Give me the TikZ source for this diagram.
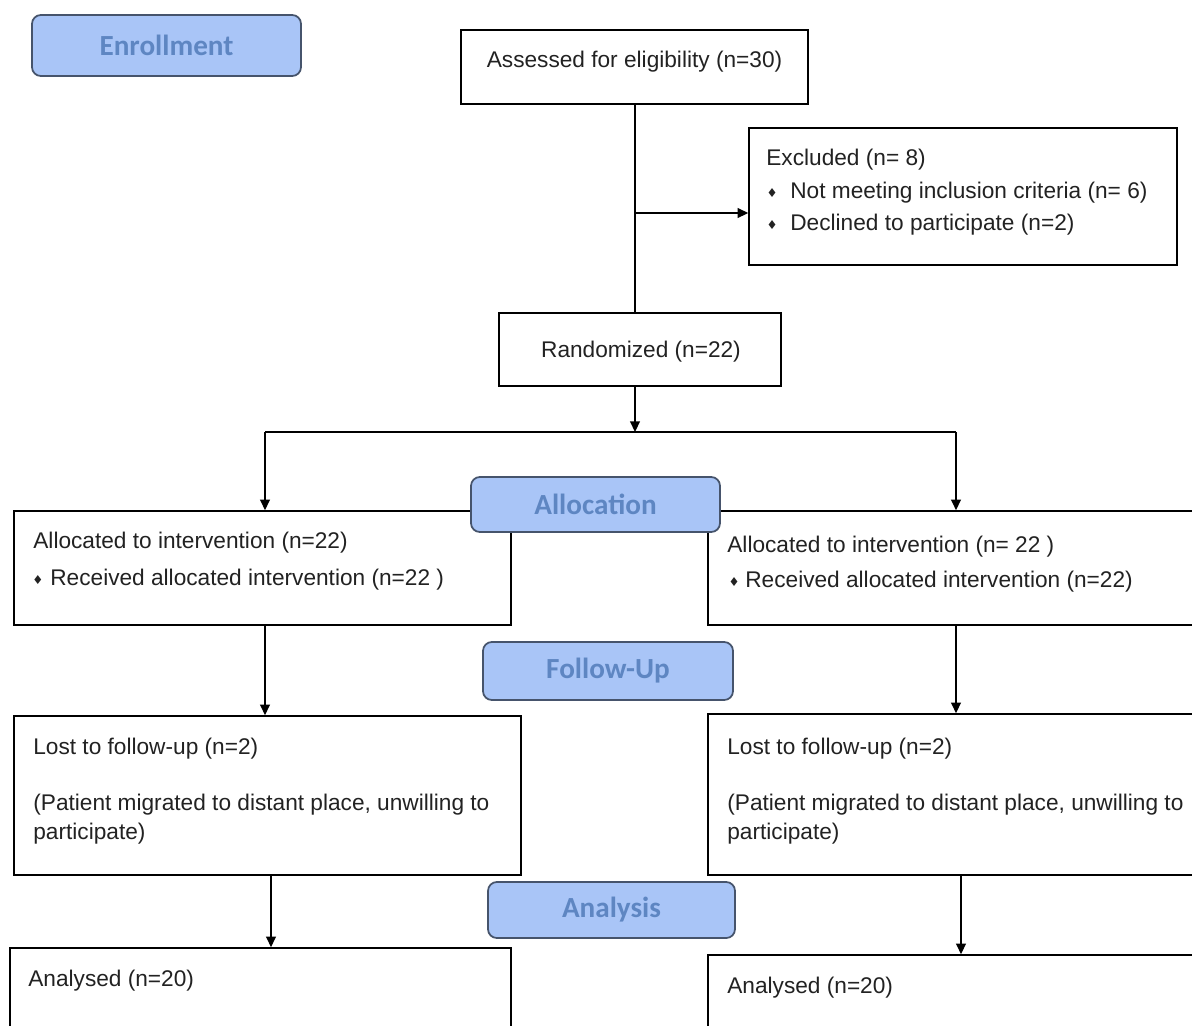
\documentclass[tikz,border=0pt]{standalone}
\usepackage{fontspec}
\setmainfont{Liberation Sans}
\newfontfamily\hdrfont{Carlito}
\newfontfamily\symfont{DejaVu Sans}
\usetikzlibrary{arrows.meta}
\definecolor{hdrfill}{HTML}{A9C5F7}
\definecolor{hdrtext}{HTML}{5E86C2}
\definecolor{hdrdraw}{HTML}{46546C}
\definecolor{txt}{HTML}{222222}
\newcommand{\bul}{{\symfont\fontsize{7}{7}\selectfont ♦}}
\begin{document}
\begin{tikzpicture}[x=0.02cm,y=-0.02cm,
  box/.style={draw=black, line width=0.9pt, rectangle, inner sep=0pt},
  hdr/.style={draw=hdrdraw, fill=hdrfill, line width=1pt, rounded corners=5pt, inner sep=0pt,
    text=hdrtext, font=\hdrfont\fontsize{16.6}{19}\selectfont\bfseries},
  lbl/.style={anchor=base west, inner sep=0pt, text=txt, font=\fontsize{12.9}{15}\selectfont},
  clbl/.style={anchor=base, inner sep=0pt, text=txt, font=\fontsize{12.9}{15}\selectfont},
  bl/.style={anchor=base, inner sep=0pt, text=txt},
  line/.style={draw=black, line width=0.9pt},
  arr/.style={line, -{Triangle[length=6pt,width=5.5pt]}}]
\useasboundingbox (0,0) rectangle (1192,1025);
\clip (0,0) rectangle (1192,1025);
\fill[white] (0,0) rectangle (1192,1025);

% boxes
\node[box, minimum width=6.94cm, minimum height=1.48cm] (assess) at (634.5,67) {};
\node[box, minimum width=8.56cm, minimum height=2.74cm] (excl) at (963,196.5) {};
\node[box, minimum width=5.64cm, minimum height=1.46cm] (rand) at (640,349.5) {};
\node[box, minimum width=9.94cm, minimum height=2.28cm] (allocL) at (262.5,568) {};
\node[box, minimum width=9.84cm, minimum height=2.28cm] (allocR) at (954,568) {};
\node[box, minimum width=10.14cm, minimum height=3.18cm] (lostL) at (267.5,795.5) {};
\node[box, minimum width=9.84cm, minimum height=3.22cm] (lostR) at (954,794.5) {};
\node[box, minimum width=10.02cm, minimum height=1.84cm] (anaL) at (260.5,994) {};
\node[box, minimum width=9.84cm, minimum height=1.70cm] (anaR) at (954,997.5) {};

% texts
\node[clbl] (tAssess) at (634.5,67) {Assessed for eligibility (n=30)};
\node[lbl] (tExcl) at (766,165) {Excluded (n= 8)};
\node[bl] (bE1) at (772,197) {\bul};
\node[lbl] (tE1) at (790,198) {Not meeting inclusion criteria (n= 6)};
\node[bl] (bE2) at (772,229) {\bul};
\node[lbl] (tE2) at (790,230) {Declined to participate (n=2)};
\node[clbl] (tRand) at (641,357) {Randomized (n=22)};

\node[lbl] (tAL1) at (33,548) {Allocated to intervention (n=22)};
\node[bl] (bAL) at (38,584) {\bul};
\node[lbl] (tAL2) at (50,585) {Received allocated intervention (n=22 )};
\node[lbl] (tAR1) at (727,552) {Allocated to intervention (n= 22 )};
\node[bl] (bAR) at (734,586) {\bul};
\node[lbl] (tAR2) at (745,587) {Received allocated intervention (n=22)};

\node[lbl] (tLL1) at (33,754) {Lost to follow-up (n=2)};
\node[lbl] (tLL2) at (33,810) {(Patient migrated to distant place, unwilling to};
\node[lbl] (tLL3) at (33,839) {participate)};
\node[lbl] (tLR1) at (727,754) {Lost to follow-up (n=2)};
\node[lbl] (tLR2) at (727,810) {(Patient migrated to distant place, unwilling to};
\node[lbl] (tLR3) at (727,839) {participate)};

\node[lbl] (tAnL) at (28,986) {Analysed (n=20)};
\node[lbl] (tAnR) at (727,993) {Analysed (n=20)};

% connectors
\coordinate (b1) at (635,213);
\coordinate (split) at (635,432);
\coordinate (sl) at (265,432);
\coordinate (sr) at (956,432);
\draw[line] (assess.south -| b1) -- (rand.north -| b1);
\draw[arr] (b1) -- (b1 -| excl.west);
\draw[arr] (rand.south -| split) -- (split);
\draw[line] (sl) -- (sr);
\draw[arr] (sl) -- (sl |- allocL.north);
\draw[arr] (sr) -- (sr |- allocR.north);
\coordinate (fl) at (265,625);
\coordinate (fr) at (956,625);
\draw[arr] (allocL.south -| fl) -- (lostL.north -| fl);
\draw[arr] (allocR.south -| fr) -- (lostR.north -| fr);
\coordinate (al) at (271,875);
\coordinate (ar) at (961,875);
\draw[arr] (lostL.south -| al) -- (anaL.north -| al);
\draw[arr] (lostR.south -| ar) -- (anaR.north -| ar);

% headers
\node[hdr, minimum width=5.38cm, minimum height=1.22cm] (enr) at (166.5,45.5) {Enrollment};
\node[hdr, minimum width=4.98cm, minimum height=1.10cm] (allocH) at (595.5,504.5) {Allocation};
\node[hdr, minimum width=5.00cm, minimum height=1.16cm] (fuH) at (608,671) {Follow-Up};
\node[hdr, minimum width=4.94cm, minimum height=1.12cm] (anaH) at (611.5,910) {Analysis};
\end{tikzpicture}
\end{document}
